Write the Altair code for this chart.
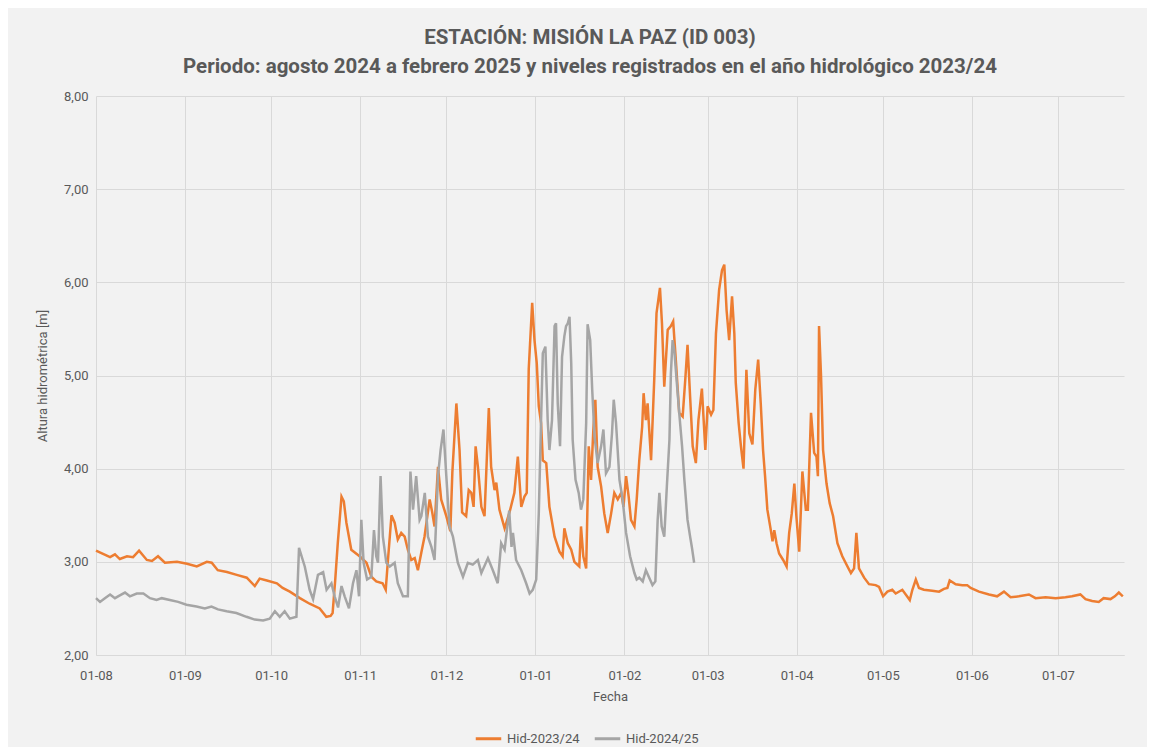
import altair as alt
import pandas as pd

# Días transcurridos desde el 1 de agosto y alturas [m]
dias_2324 = [0, 4.9, 6.6, 8.3, 10.8, 12.9, 15.0, 17.7, 19.5, 21.6, 24.0, 28.2, 31.7, 35.1, 38.6, 40.3,
             42.4, 45.6, 49.0, 52.5, 55.3, 57.0, 59.5, 63.0, 65.0, 67.5, 71.0, 74.4, 77.9, 80.2, 81.7,
             82.4, 83.3, 84.2, 85.5, 86.3, 87.2, 88.9, 91.8, 94.2, 95.9, 97.6, 99.8, 100.9, 101.6,
             102.9, 104.0, 105.1, 106.3, 107.5, 108.6, 109.8, 111.0, 112.1, 113.3, 114.4, 116.2,
             117.1, 117.9, 119.1, 120.2, 122.0, 123.4, 124.1, 125.5, 126.6, 127.5, 128.9, 129.8,
             130.7, 131.5, 132.2, 133.0, 134.2, 135.3, 136.8, 137.6, 138.8, 139.4, 140.5, 142.3,
             144.0, 145.7, 146.9, 148.1, 149.2, 150.0, 150.7, 151.9, 152.7, 153.5, 154.2, 155.0,
             155.6, 156.8, 157.9, 159.7, 161.4, 162.5, 163.1, 164.3, 165.5, 166.6, 168.3, 168.9,
             169.7, 170.7, 171.6, 172.4, 173.2, 173.9, 174.7, 175.9, 177.0, 178.2, 179.4, 180.5,
             181.7, 182.9, 183.7, 184.6, 185.5, 186.3, 187.5, 188.3, 189.2, 190.2, 190.7, 191.5,
             192.1, 193.3, 194.4, 195.2, 196.4, 197.1, 197.9, 199.1, 200.2, 201.0, 202.0, 203.1,
             204.3, 205.2, 206.0, 206.9, 207.8, 208.9, 209.8, 211.0, 212.2, 213.0, 214.2, 215.0,
             215.9, 217.0, 218.0, 218.8, 219.6, 220.5, 221.5, 222.3, 222.8, 223.8, 224.6, 225.5,
             226.5, 227.5, 228.6, 229.6, 230.6, 231.5, 232.3, 233.0, 233.8, 235.0, 235.6, 236.2,
             237.0, 237.9, 239.3, 240.5, 241.4, 242.3, 243.2, 243.9, 244.9, 246.0, 247.2, 247.9,
             249.0, 250.1, 250.9, 251.4, 251.8, 252.5, 253.2, 254.4, 255.5, 256.7, 258.2, 259.9,
             261.7, 262.9, 264.0, 264.8, 265.7, 267.5, 269.2, 271.5, 272.7, 274.1, 275.6, 277.3,
             278.5, 280.8, 283.4, 284.3, 285.5, 286.6, 288.3, 291.2, 293.6, 295.3, 296.5, 297.3,
             299.4, 301.7, 303.4, 304.6, 307.5, 311.0, 313.8, 316.2, 318.5, 321.4, 324.9, 327.2,
             330.7, 334.2, 337.6, 339.9, 342.8, 344.6, 346.9, 349.2, 350.9, 353.3, 354.8, 356.2,
             357.6]
hid_2324 = [3.12, 3.05, 3.08, 3.03, 3.06, 3.05, 3.12, 3.02, 3.01, 3.06, 2.99, 3.00, 2.98, 2.95, 3.00, 2.99,
            2.91, 2.89, 2.86, 2.83, 2.74, 2.82, 2.80, 2.77, 2.72, 2.68, 2.61, 2.55, 2.50, 2.41, 2.42,
            2.45, 2.80, 3.20, 3.70, 3.65, 3.42, 3.13, 3.06, 2.99, 2.84, 2.79, 2.77, 2.70, 2.99,
            3.50, 3.42, 3.24, 3.31, 3.27, 3.13, 3.02, 3.04, 2.91, 3.10, 3.27, 3.67,
            3.53, 3.38, 4.02, 3.67, 3.49, 3.33, 3.96, 4.70, 4.20, 3.53, 3.49, 3.77,
            3.74, 3.59, 4.24, 4.02, 3.59, 3.49, 4.65, 4.02, 3.77, 3.85, 3.56, 3.36,
            3.53, 3.74, 4.13, 3.59, 3.70, 3.74, 5.07, 5.78, 5.38, 5.13, 4.67, 4.49,
            4.09, 4.06, 3.59, 3.27, 3.11, 3.06, 3.36, 3.20, 3.13, 3.00, 2.95, 3.38,
            3.06, 2.93, 4.24, 3.88, 4.42, 4.74, 4.02, 3.81, 3.52, 3.31, 3.52, 3.74,
            3.67, 3.74, 3.59, 3.92, 3.70, 3.45, 3.38, 3.67, 4.09, 4.45, 4.81, 4.52,
            4.70, 4.09, 4.95, 5.67, 5.94, 5.56, 4.88, 5.49, 5.53, 5.58, 5.13, 4.60,
            4.56, 4.95, 5.33, 4.77, 4.24, 4.06, 4.52, 4.86, 4.20, 4.67, 4.58, 4.63,
            5.45, 5.92, 6.13, 6.19, 5.70, 5.38, 5.85, 5.45, 4.92, 4.49, 4.24, 4.00,
            5.06, 4.38, 4.26, 4.85, 5.17, 4.70, 4.20, 3.92, 3.56, 3.34, 3.22, 3.34,
            3.20, 3.09, 3.02, 2.95, 3.31, 3.52, 3.84, 3.49, 3.11, 3.97, 3.56, 3.56,
            4.60, 4.17, 4.13, 3.92, 5.53, 4.99, 4.20, 3.84, 3.63, 3.49, 3.20, 3.06,
            2.95, 2.88, 2.93, 3.31, 2.93, 2.83, 2.76, 2.75, 2.73, 2.63, 2.68, 2.70,
            2.66, 2.70, 2.59, 2.70, 2.81, 2.72, 2.70, 2.69, 2.68, 2.71, 2.72, 2.80,
            2.76, 2.75, 2.75, 2.72, 2.68, 2.65, 2.63, 2.68, 2.62, 2.63, 2.65, 2.61,
            2.62, 2.61, 2.62, 2.63, 2.65, 2.60, 2.58, 2.57, 2.61, 2.60, 2.63, 2.67,
            2.63]

dias_2425 = [0, 1.4, 3.1, 4.9, 6.6, 8.3, 10.1, 11.8, 14.2, 16.5, 18.8, 21.1, 22.9, 25.7, 28.6, 31.5,
             35.0, 37.9, 40.2, 42.5, 45.5, 48.9, 52.4, 55.3, 58.2, 60.5, 62.3, 64.0, 65.7, 67.5,
             69.8, 70.7, 72.7, 74.4, 75.6, 77.3, 79.1, 80.3, 82.0, 83.1, 84.3, 85.5, 86.6, 88.1,
             89.5, 90.7, 91.6, 92.4, 93.2, 94.4, 95.9, 96.8, 97.6, 98.2, 99.1, 99.9, 101.1, 102.3,
             104.0, 105.1, 106.9, 108.6, 109.5, 110.4, 111.5, 112.7, 113.3, 114.5, 115.6, 116.8,
             117.9, 119.1, 120.0, 121.0, 122.0, 123.1, 124.3, 126.0, 127.8, 129.5, 131.2, 133.0,
             134.2, 136.5, 138.2, 139.9, 141.1, 142.3, 143.9, 144.7, 145.2, 146.3, 148.1, 149.8,
             151.0, 152.1, 153.3, 154.2, 155.0, 155.6, 156.5, 157.3, 157.9, 158.8, 159.7, 160.2,
             160.8, 161.6, 162.3, 163.1, 163.7, 164.3, 164.9, 165.5, 166.0, 167.0, 168.1, 168.9,
             169.7, 170.7, 171.2, 172.1, 172.8, 173.6, 174.7, 175.9, 176.7, 177.6, 178.8, 179.7,
             180.3, 181.1, 182.3, 183.4, 184.6, 186.0, 187.5, 188.3, 189.2, 190.4, 191.5, 192.5,
             193.8, 194.8, 195.6, 196.2, 197.0, 197.9, 198.8, 199.7, 200.2, 200.8, 201.4, 202.2,
             203.1, 204.1, 204.9, 206.0, 206.9, 207.5, 208.3]
hid_2425 = [2.61, 2.57, 2.61, 2.65, 2.61, 2.64, 2.67, 2.63, 2.66, 2.66, 2.61, 2.59, 2.61, 2.59, 2.57, 2.54,
            2.52, 2.50, 2.52, 2.49, 2.47, 2.45, 2.41, 2.38, 2.37, 2.39, 2.47, 2.41, 2.47, 2.39,
            2.41, 3.15, 2.95, 2.70, 2.60, 2.86, 2.89, 2.70, 2.77, 2.63, 2.51, 2.74, 2.63, 2.50,
            2.77, 2.91, 2.63, 3.45, 2.99, 2.81, 2.84, 3.34, 3.06, 2.99, 3.92, 3.27, 2.99, 2.95,
            2.99, 2.77, 2.63, 2.63, 3.97, 3.56, 3.92, 3.45, 3.49, 3.74, 3.27, 3.16,
            3.02, 3.92, 4.20, 4.42, 3.92, 3.38, 3.27, 2.99, 2.84, 2.99, 2.97, 3.02,
            2.88, 3.04, 2.91, 2.77, 3.20, 3.13, 3.55, 3.16, 3.31, 3.02, 2.91, 2.77,
            2.66, 2.70, 2.81, 3.52, 4.52, 5.24, 5.31, 4.52, 4.20, 4.52, 5.53, 5.56,
            4.70, 4.24, 5.20, 5.42, 5.53, 5.56, 5.63, 5.13, 4.31, 3.88, 3.74, 3.56,
            3.67, 4.49, 5.55, 5.38, 4.85, 4.35, 4.06, 4.24, 4.42, 3.95, 4.02, 4.38,
            4.74, 4.49, 3.88, 3.67, 3.31, 3.06, 2.88, 2.81, 2.83, 2.79, 2.91, 2.84,
            2.75, 2.79, 3.45, 3.74, 3.38, 3.27, 3.81, 4.31, 5.02, 5.38, 5.27, 4.95,
            4.60, 4.24, 3.88, 3.45, 3.27, 3.16, 2.99]

series = ["Hid-2023/24", "Hid-2024/25"]
colores = ["#ed7d31", "#a5a5a5"]
meses = ["2023-08-01", "2023-09-01", "2023-10-01", "2023-11-01", "2023-12-01", "2024-01-01",
         "2024-02-01", "2024-03-01", "2024-04-01", "2024-05-01", "2024-06-01", "2024-07-01"]
fin_eje = "2024-07-24"

base = pd.Timestamp("2023-08-01")
df = pd.concat([
    pd.DataFrame({"Fecha": base + pd.to_timedelta(dias_2324, unit="D"), "Altura": hid_2324, "Serie": series[0]}),
    pd.DataFrame({"Fecha": base + pd.to_timedelta(dias_2425, unit="D"), "Altura": hid_2425, "Serie": series[1]}),
])

def dt(s):
    t = pd.Timestamp(s)
    return alt.DateTime(year=t.year, month=t.month, date=t.day)

FONT = "Roboto, sans-serif"
TXT = "#595959"
GRID = "#d9d9d9"

chart = alt.Chart(df).mark_line(strokeWidth=2.5, interpolate="linear").encode(
    x=alt.X("Fecha:T", title="Fecha",
            scale=alt.Scale(domain=[dt(meses[0]), dt(fin_eje)], nice=False),
            axis=alt.Axis(values=[dt(m) for m in meses], format="%d-%m", labelFlush=False,
                          ticks=False, domainColor=GRID, gridColor=GRID, labelPadding=14,
                          titlePadding=8)),
    y=alt.Y("Altura:Q", title="Altura hidrométrica [m]",
            scale=alt.Scale(domain=[2, 8], nice=False, zero=False),
            axis=alt.Axis(values=[2, 3, 4, 5, 6, 7, 8], ticks=False, domain=False, gridColor=GRID,
                          labelExpr="replace(format(datum.value, '.2f'), '.', ',')",
                          labelPadding=8, titlePadding=14)),
    color=alt.Color("Serie:N", scale=alt.Scale(domain=series, range=colores),
                    legend=alt.Legend(title=None, orient="none", legendX=378, legendY=628,
                                      direction="horizontal", symbolType="stroke",
                                      symbolStrokeWidth=3, symbolSize=650, columnPadding=8,
                                      labelFontSize=13, labelColor=TXT, labelFont=FONT)),
).properties(
    width=1028, height=559,
    title=alt.TitleParams(
        text=["ESTACIÓN: MISIÓN LA PAZ (ID 003)",
              "Periodo: agosto 2024 a febrero 2025 y niveles registrados en el año hidrológico 2023/24"],
        fontSize=20.5, fontWeight="bold", color=TXT, font=FONT, lineHeight=29,
        anchor="middle", dx=-20, offset=13),
    background="#f2f2f2",
    padding={"left": 88, "top": 88, "right": 23, "bottom": 92},
    autosize=alt.AutoSizeParams(type="none"),
).configure_view(stroke=None).configure_axis(
    labelFont=FONT, titleFont=FONT, labelColor=TXT, titleColor=TXT,
    labelFontSize=13, titleFontSize=13, titleFontWeight="normal",
)

chart.save("out.html", embed_options={"renderer": "svg", "actions": False})
